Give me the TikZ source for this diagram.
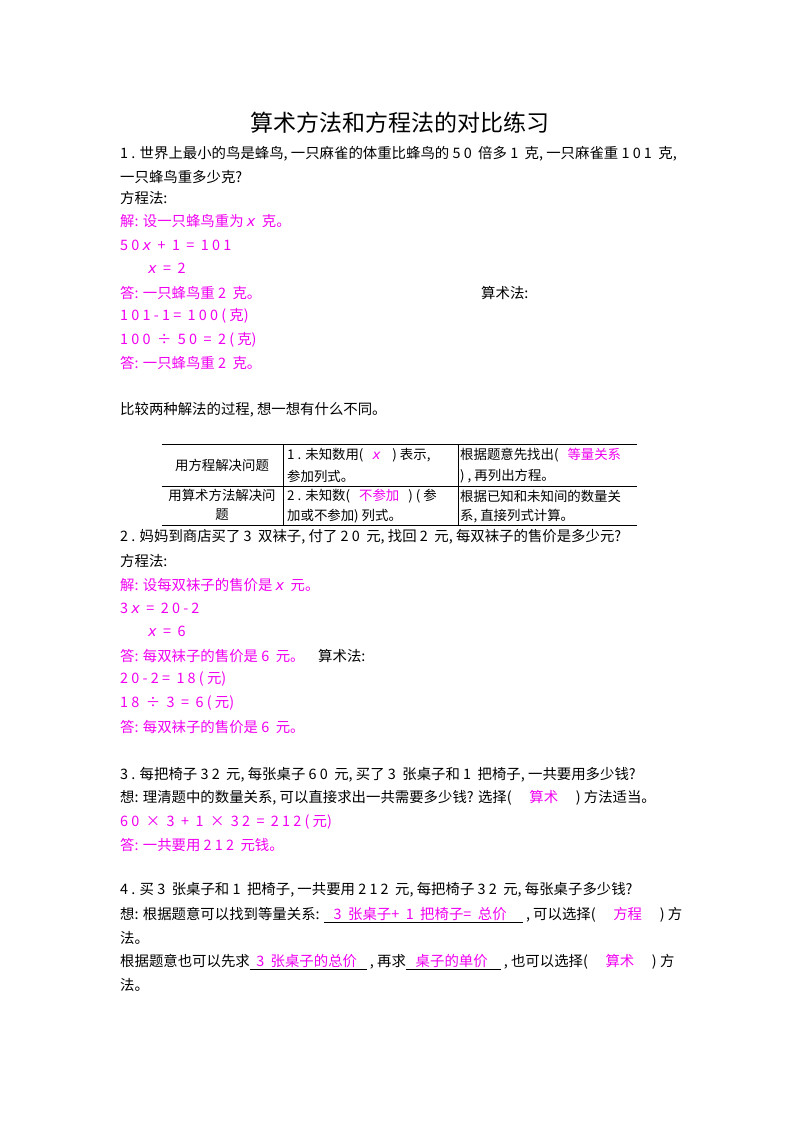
\documentclass[tikz,border=0pt]{standalone}
\usepackage{fontspec}
\setmainfont{Noto Sans CJK SC}
\newfontfamily\ital{DejaVu Sans Oblique}
\definecolor{mag}{RGB}{240,0,240}
\begin{document}
\begin{tikzpicture}[x=1pt,y=-1pt,
  t/.style={anchor=west,inner sep=0pt,font=\fontsize{14.4}{16}\selectfont},
  tb/.style={anchor=west,inner sep=0pt,font=\fontsize{13.4}{16}\selectfont},
  m/.style={t,text=mag},
  c/.style={inner sep=0pt,font=\fontsize{13.4}{19}\selectfont,align=center}]
\useasboundingbox (0,0) rectangle (800,1132);
\node[inner sep=0pt,font=\fontsize{23}{26}\selectfont] (title) at (400,123) {算术方法和方程法的对比练习};
\node[t] (a1) at (120,154) {1 . 世界上最小的鸟是蜂鸟, 一只麻雀的体重比蜂鸟的 5 0 \ 倍多 1 \ 克, 一只麻雀重 1 0 1 \ 克,};
\node[t] (a2) at (120,177) {一只蜂鸟重多少克?};
\node[t] (a3) at (120,198) {方程法:};
\node[m] (a4) at (120,221) {解: 设一只蜂鸟重为 {\ital x} \ 克。};
\node[m] (a5) at (120,245) {5 0 {\ital x} \ + \ 1 \ = \ 1 0 1};
\node[m] (a6) at (148,268) {{\ital x} \ = \ 2};
\node[m] (a7) at (120,293) {答: 一只蜂鸟重 2 \ 克。};
\node[t] (a8) at (481,293) {算术法:};
\node[m] (a9) at (120,316) {1 0 1 - 1 = \ 1 0 0 ( 克)};
\node[m] (a10) at (120,340) {1 0 0 \ ÷ \ 5 0 \ = \ 2 ( 克)};
\node[m] (a11) at (120,363) {答: 一只蜂鸟重 2 \ 克。};
\node[t] (b1) at (120,410) {比较两种解法的过程, 想一想有什么不同。};
% table
\draw (162,444) -- (637,444) (162,486) -- (637,486) (162,525) -- (637,525)
      (283,444) -- (283,525) (458,444) -- (458,525);
\node[c] (t11) at (222,465) {用方程解决问题};
\node[tb] (t12) at (287,455) {1 . 未知数用( \ \ \textcolor{mag}{\ital x} \ \ \ ) 表示,};
\node[tb] (t12b) at (287,476) {参加列式。};
\node[tb] (t13) at (460,455) {根据题意先找出( \ \ \textcolor{mag}{等量关系}};
\node[tb] (t13b) at (460,476) {) , 再列出方程。};
\node[c] (t21) at (222,505) {用算术方法解决问\\题};
\node[tb] (t22) at (287,496) {2 . 未知数( \ \ \textcolor{mag}{不参加} \ \ ) ( 参};
\node[tb] (t22b) at (287,516) {加或不参加) 列式。};
\node[tb] (t23) at (460,496) {根据已知和未知间的数量关};
\node[tb] (t23b) at (460,516) {系, 直接列式计算。};
\node[t] (c1) at (120,537) {2 . 妈妈到商店买了 3 \ 双袜子, 付了 2 0 \ 元, 找回 2 \ 元, 每双袜子的售价是多少元?};
\node[t] (c2) at (120,561) {方程法:};
\node[m] (c3) at (120,585) {解: 设每双袜子的售价是 {\ital x} \ 元。};
\node[m] (c4) at (120,608) {3 {\ital x} \ = \ 2 0 - 2};
\node[m] (c5) at (148,631) {{\ital x} \ = \ 6};
\node[m] (c6) at (120,656) {答: 每双袜子的售价是 6 \ 元。};
\node[t] (c7) at (318,656) {算术法:};
\node[m] (c8) at (120,679) {2 0 - 2 = \ 1 8 ( 元)};
\node[m] (c9) at (120,703) {1 8 \ ÷ \ 3 \ = \ 6 ( 元)};
\node[m] (c10) at (120,727) {答: 每双袜子的售价是 6 \ 元。};
\node[t] (d1) at (120,775) {3 . 每把椅子 3 2 \ 元, 每张桌子 6 0 \ 元, 买了 3 \ 张桌子和 1 \ 把椅子, 一共要用多少钱?};
\node[t] (d2) at (120,798) {想: 理清题中的数量关系, 可以直接求出一共需要多少钱? 选择( \quad \textcolor{mag}{算术} \quad ) 方法适当。};
\node[m] (d3) at (120,822) {6 0 \ × \ 3 \ + \ 1 \ × \ 3 2 \ = \ 2 1 2 ( 元)};
\node[m] (d4) at (120,845) {答: 一共要用 2 1 2 \ 元钱。};
\node[t] (e1) at (120,890) {4 . 买 3 \ 张桌子和 1 \ 把椅子, 一共要用 2 1 2 \ 元, 每把椅子 3 2 \ 元, 每张桌子多少钱?};
\node[t] (e2) at (120,915) {想: 根据题意可以找到等量关系: \underline{\ \ \ \textcolor{mag}{3 \ 张桌子+ \ 1 \ 把椅子= \ 总价}\ \ \ \ \ } , 可以选择( \quad \textcolor{mag}{方程} \quad ) 方};
\node[t] (e3) at (120,938) {法。};
\node[t] (e4) at (120,962) {根据题意也可以先求\underline{\ \ \textcolor{mag}{3 \ 张桌子的总价}\ \ \ } , 再求\underline{\ \ \ \textcolor{mag}{桌子的单价}\ \ \ \ } , 也可以选择( \quad \textcolor{mag}{算术} \quad ) 方};
\node[t] (e5) at (120,985) {法。};
\end{tikzpicture}
\end{document}
